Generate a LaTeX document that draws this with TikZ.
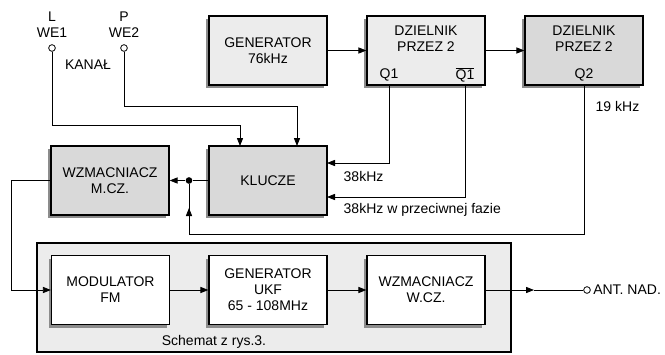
\documentclass[tikz,border=0pt]{standalone}
\usepackage{fontspec}
\setmainfont{Liberation Sans}
\usepackage{tikz}
\usepackage{xcolor}
\usetikzlibrary{shapes, arrows.meta, positioning, shadows}
\definecolor{blklight}{HTML}{ECECEC}
\definecolor{blkdark}{HTML}{D9D9D9}
\definecolor{blkshadow}{HTML}{8C8C8C}

\tikzset{
    block/.style={draw, line width=0.9pt, minimum width=88.5pt, minimum height=51.75pt,
        align=center, inner sep=0pt,
        drop shadow={shadow xshift=-1.9pt, shadow yshift=-2.6pt, fill=blkshadow, opacity=1}},
    wire/.style={line width=0.6pt},
    conn/.style={wire, -{Triangle[length=6pt, width=4.6pt]}},
    term/.style={circle, draw, line width=0.6pt, fill=white, minimum size=5pt, inner sep=0pt},
    junct/.style={circle, fill=black, minimum size=5pt, inner sep=0pt}
}

\begin{document}
\begin{tikzpicture}[font=\fontsize{10.5}{12}\selectfont, x=0.75pt, y=-0.75pt]
\useasboundingbox (0,0) rectangle (665,354);

% tor nadajnika w.cz.
\node[draw, line width=0.9pt, fill=blklight, minimum width=355.5pt, minimum height=81.75pt] (schemat) at (274,297.5) {};
\node (schlbl) at (214,342) {Schemat z rys.3.};

% bloki
\node[block, fill=blklight] (gen) at (268,50.5) {GENERATOR\\76kHz};
\node[block, fill=blklight] (dz1) at (426,50.5) {};
\node[block, fill=blkdark] (dz2) at (584,50.5) {};
\node[block, fill=blkdark] (klucze) at (268,180.5) {KLUCZE};
\node[block, fill=blkdark] (wzm) at (110,180.5) {WZMACNIACZ\\M.CZ.};
\node[block, fill=white] (mod) at (110.5,290) {MODULATOR\\FM};
\node[block, fill=white] (ukf) at (268,290) {GENERATOR\\UKF\\65 - 108MHz};
\node[block, fill=white] (wcz) at (426,290) {WZMACNIACZ\\W.CZ.};

\node[align=center] (dz1txt) at (426,39) {DZIELNIK\\PRZEZ 2};
\node[align=center] (dz2txt) at (584,39) {DZIELNIK\\PRZEZ 2};
\node (q1) at (389,75) {Q1};
\node (q1n) at (465,75) {$\overline{\hbox{Q1}}$};
\node (q2) at (584,75) {Q2};

% wejscia
\node[term] (we1) at (52,48) {};
\node[term] (we2) at (124,48) {};
\node[anchor=south, align=center, inner sep=1pt] (we1lbl) at (52,39) {L\\WE1};
\node[anchor=south, align=center, inner sep=1pt] (we2lbl) at (124,39) {P\\WE2};
\node (kanal) at (88,65) {KANAŁ};

\coordinate (kin1) at (240,146);
\coordinate (kin2) at (297,146);
\coordinate (kq1) at (327,163);
\coordinate (kq2) at (327,197);
\node[junct] (j) at (189,180.5) {};
\coordinate (q2c) at (189,234);
\coordinate (q2arr) at (189,208);

\draw[conn] (we1) -- ++(0,77) -| (kin1);
\draw[conn] (we2) -- ++(0,58) -| (kin2);
\draw[conn] (gen) -- (dz1);
\draw[conn] (dz1) -- (dz2);
\draw[conn] (q1 |- dz1.south) |- (kq1);
\draw[conn] (q1n |- dz1.south) |- (kq2);
\draw[wire] (dz2.south) |- (q2c) -- (j);
\draw[conn] (q2c) -- (q2arr);
\draw[wire] (klucze.west) -- (j);
\draw[conn] (j) -- (wzm.east);
\draw[conn] (wzm.west) -- ++(-39,0) |- (mod.west);
\draw[conn] (mod) -- (ukf);
\draw[conn] (ukf) -- (wcz);

\node[anchor=west] (f19) at (591,106) {19 kHz};
\node[anchor=west] (f38) at (339,176) {38kHz};
\node[anchor=west] (f38n) at (339,210) {38kHz w przeciwnej fazie};

% wyjscie antenowe
\node[term] (ant) at (587,290) {};
\coordinate (antarr) at (534,290);
\draw[conn] (wcz.east) -- (antarr);
\draw[wire] (antarr) -- (ant);
\node[anchor=west, inner sep=0pt] (antlbl) at (593,290) {ANT. NAD.};
\end{tikzpicture}
\end{document}
